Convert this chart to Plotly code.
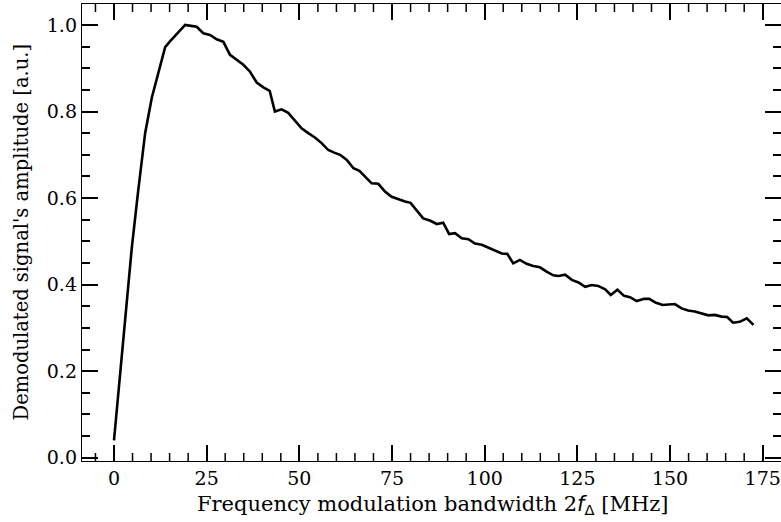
import plotly.graph_objects as go

bandwidth_mhz = [0, 1.6, 3.2, 4.8, 6.5, 8.4, 10.2, 12.0, 13.8, 15.1,
                 17.1, 19.2, 20.8, 22.3, 24.1, 25.9, 27.7, 29.5, 31.3, 33.1,
                 34.9, 36.7, 38.5, 40.3, 42.0, 43.4, 45.2, 47.0, 48.8, 50.6,
                 52.4, 54.2, 56.0, 57.8, 59.4, 61.0, 62.8, 64.6, 66.2, 67.7,
                 69.5, 71.3, 73.1, 74.9, 76.7, 78.5, 80.0, 81.7, 83.4, 85.2,
                 87.1, 88.8, 90.4, 92.0, 93.8, 95.6, 97.4, 99.2, 101.0, 102.8,
                 104.6, 106.1, 107.7, 109.5, 111.3, 113.1, 114.9, 116.7, 118.5, 119.9,
                 121.7, 123.5, 125.3, 127.1, 128.9, 130.6, 132.5, 134.0, 135.8, 137.6,
                 139.2, 141.0, 143.0, 144.4, 146.2, 148.0, 149.8, 151.3, 153.1, 154.9,
                 156.7, 158.5, 160.3, 162.1, 163.9, 165.4, 167.0, 168.8, 170.7, 172.5]

amplitude = [0.04, 0.19, 0.35, 0.485, 0.615, 0.75, 0.832, 0.892, 0.949, 0.962,
             0.98, 1.0, 0.998, 0.996, 0.981, 0.977, 0.967, 0.961, 0.931, 0.919,
             0.908, 0.892, 0.867, 0.856, 0.848, 0.80, 0.805, 0.797, 0.780, 0.761,
             0.750, 0.740, 0.727, 0.711, 0.705, 0.700, 0.688, 0.669, 0.663, 0.649,
             0.634, 0.633, 0.615, 0.603, 0.597, 0.592, 0.589, 0.571, 0.553, 0.548,
             0.540, 0.543, 0.517, 0.519, 0.507, 0.505, 0.495, 0.492, 0.485, 0.478,
             0.472, 0.471, 0.449, 0.457, 0.448, 0.443, 0.440, 0.430, 0.4215, 0.420,
             0.423, 0.411, 0.405, 0.395, 0.399, 0.397, 0.389, 0.376, 0.388, 0.374,
             0.371, 0.362, 0.367, 0.367, 0.358, 0.353, 0.354, 0.355, 0.345, 0.340,
             0.338, 0.334, 0.329, 0.330, 0.326, 0.325, 0.312, 0.314, 0.322, 0.307]

x_tick_step = 25
y_tick_step = 0.2
x_minor_step = 5
y_minor_step = 0.05

x_title = ('Frequency modulation bandwidth 2<span style="font-family:DejaVu Sans"><i>f</i>'
           '<sub>Δ</sub></span> [MHz]')
y_title = "Demodulated signal's amplitude [a.u.]"

FONT = "DejaVu Serif"
W, H = 781, 522
ML, MR, MT, MB = 82, 0, 4, 61
X_RANGE = [-8.63, 179.93]
Y_RANGE = [-0.0077, 1.0485]

fig = go.Figure()
fig.add_trace(go.Scatter(x=bandwidth_mhz, y=amplitude, mode="lines",
                         line=dict(color="black", width=2.6), showlegend=False))

tickfont = dict(family=FONT, size=19, color="black")

fig.update_layout(xaxis=dict(
    range=X_RANGE, tickmode="linear", tick0=0, dtick=x_tick_step,
    showgrid=False, zeroline=False, showline=True, linecolor="black", linewidth=1.4,
    ticks="inside", ticklen=16, tickwidth=1.5, tickcolor="#000000", mirror="ticks",
    tickfont=tickfont, automargin=False, layer="above traces",
))
fig.update_layout(yaxis=dict(
    range=Y_RANGE, tickmode="linear", tick0=0, dtick=y_tick_step, tickformat=".1f",
    showgrid=False, zeroline=False, showline=True, linecolor="black", linewidth=1.4,
    ticks="inside", ticklen=16, tickwidth=1.5, tickcolor="#000000", mirror="allticks",
    minor=dict(dtick=y_minor_step, ticks="inside", ticklen=8, tickwidth=1.5,
               tickcolor="#000000"),
    tickfont=tickfont, automargin=False, layer="above traces",
))

# minor x ticks (bottom and top, pointing inward), placed on the x data scale
n_lo = int(X_RANGE[0] // x_minor_step) + 1
n_hi = int(X_RANGE[1] // x_minor_step)
for n in range(n_lo, n_hi + 1):
    v = n * x_minor_step
    if v % x_tick_step == 0:
        continue
    for anchor, length in ((0, 8), (1, -8)):
        fig.add_shape(type="line", xref="x", yref="paper", x0=v, x1=v,
                      ysizemode="pixel", yanchor=anchor, y0=0, y1=length,
                      line=dict(color="black", width=1.5), layer="above")

fig.add_annotation(text=x_title, xref="paper", yref="paper",
                   x=(433 - ML) / (W - ML - MR), y=(H - MB - 505) / (H - MT - MB),
                   xanchor="center", yanchor="middle", showarrow=False,
                   font=dict(family=FONT, size=21, color="black"))
fig.add_annotation(text=y_title, xref="paper", yref="paper",
                   x=(21 - ML) / (W - ML - MR), y=0.5, textangle=-90,
                   xanchor="center", yanchor="middle", showarrow=False,
                   font=dict(family=FONT, size=19.5, color="black"))

fig.update_layout(width=W, height=H, margin=dict(l=ML, r=MR, t=MT, b=MB, autoexpand=False),
                  plot_bgcolor="white", paper_bgcolor="white")

fig.write_html("out.html", config={"displayModeBar": False},
               post_script="document.body.style.margin='0';")
